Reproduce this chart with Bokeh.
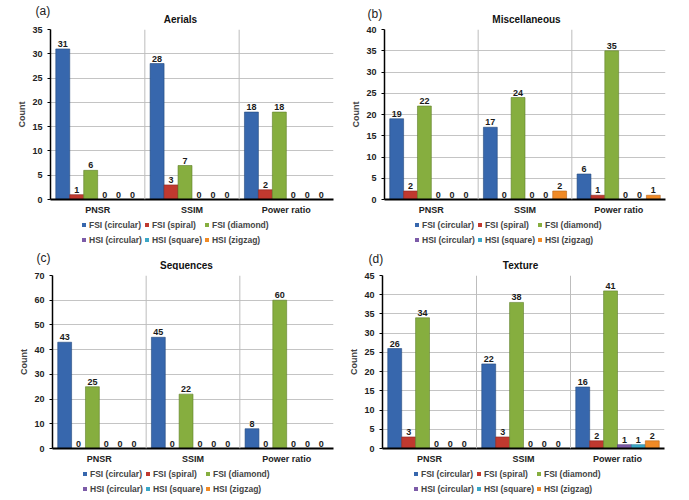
from bokeh.plotting import figure
from bokeh.models import (FactorRange, ColumnDataSource, LabelSet, Span, Legend,
                          LegendItem, Label, SingleIntervalTicker)
from bokeh.transform import dodge
from bokeh.layouts import column, row
from bokeh.embed import file_html
from bokeh.resources import INLINE
from bokeh.core.properties import value

# ---------------- data ----------------
categories = ["PNSR", "SSIM", "Power ratio"]
series = ["FSI (circular)", "FSI (spiral)", "FSI (diamond)",
          "HSI (circular)", "HSI (square)", "HSI (zigzag)"]

# rows = series (in the order above), columns = categories
aerials = [[31, 28, 18], [1, 3, 2], [6, 7, 18], [0, 0, 0], [0, 0, 0], [0, 0, 0]]
miscellaneous = [[19, 17, 6], [2, 0, 1], [22, 24, 35], [0, 0, 0], [0, 0, 0], [0, 2, 1]]
sequences = [[43, 45, 8], [0, 0, 0], [25, 22, 60], [0, 0, 0], [0, 0, 0], [0, 0, 0]]
texture = [[26, 22, 16], [3, 3, 2], [34, 38, 41], [0, 0, 1], [0, 0, 1], [0, 0, 2]]

# ---------------- styles ----------------
colors = ["#3767AD", "#C0392F", "#86AE3F", "#7C5BA8", "#3BA7C7", "#F08A26"]
edges = ["#24497E", "#8C2621", "#5F7F2A", "#573F7C", "#287A93", "#B5641A"]
FONT = "Liberation Sans"
BAR_W = 0.148


def blank(w, h):
    f = figure(width=w, height=h, x_range=(0, 1), y_range=(0, 1),
               x_axis_type=None, y_axis_type=None, output_backend="svg",
               toolbar_location=None, min_border=0, frame_align=False)
    f.outline_line_color = None
    f.background_fill_color = "white"
    f.border_fill_color = "white"
    return f


def panel(letter, title, data, ymax, step, w, lay):
    (hh, letter_x, letter_y, title_x, title_y,
     bl, br, bt, fh, bb, lh, leg_x, leg_y) = lay

    # header with panel letter and title
    head = blank(w, hh)
    head.add_layout(Label(x=letter_x, y=letter_y, x_units="screen", y_units="screen",
                          text=letter, text_font=FONT, text_font_size="12px",
                          text_baseline="middle", text_align="left",
                          text_color="#222222"))
    head.add_layout(Label(x=title_x, y=title_y, x_units="screen", y_units="screen",
                          text=title, text_font=FONT, text_font_size="10px",
                          text_font_style="bold", text_baseline="middle",
                          text_align="center", text_color="#111111"))

    # main chart
    p = figure(x_range=FactorRange(*categories), y_range=(0, ymax),
               width=w, height=bt + fh + bb, output_backend="svg",
               toolbar_location=None, min_border_left=bl, min_border_right=br,
               min_border_top=bt, min_border_bottom=bb, frame_align=False)
    p.outline_line_color = None
    p.background_fill_color = "white"
    p.border_fill_color = "white"

    for i, name in enumerate(series):
        vals = data[i]
        src = ColumnDataSource(dict(cat=categories, val=vals,
                                    txt=[str(v) for v in vals]))
        off = (i - 2.5) * BAR_W
        p.vbar(x=dodge("cat", off, range=p.x_range), top="val", width=BAR_W,
               source=src, fill_color=colors[i], line_color=edges[i],
               line_width=0.6)
        p.add_layout(LabelSet(x=dodge("cat", off, range=p.x_range), y="val",
                              text="txt", source=src, text_align="center",
                              text_baseline="bottom", y_offset=2,
                              text_font_size="9px", text_font_style="bold",
                              text_font=value(FONT), text_color="#1a1a1a"))

    for b in (1, 2):
        p.add_layout(Span(location=b, dimension="height", line_color="#BDBDBD",
                          line_width=1))

    p.xgrid.grid_line_color = None
    p.ygrid.grid_line_color = "#C4C4C4"
    p.ygrid.grid_line_width = 1.2

    p.yaxis.ticker = SingleIntervalTicker(interval=step)
    p.yaxis.axis_label = "Count"
    p.yaxis.axis_label_text_font = FONT
    p.yaxis.axis_label_text_font_size = "9px"
    p.yaxis.axis_label_text_font_style = "bold"
    p.yaxis.axis_label_standoff = 2
    p.yaxis.major_label_text_font = FONT
    p.yaxis.major_label_text_font_size = "9px"
    p.yaxis.major_label_text_font_style = "bold"
    p.yaxis.major_label_text_color = "#222222"
    p.yaxis.major_label_standoff = 4
    p.yaxis.axis_line_width = 1.5
    p.yaxis.axis_line_color = "black"
    p.yaxis.major_tick_out = 3
    p.yaxis.major_tick_in = 0
    p.yaxis.minor_tick_line_color = None

    p.xaxis.axis_line_width = 2
    p.xaxis.axis_line_color = "black"
    p.xaxis.major_tick_out = 0
    p.xaxis.major_tick_in = 0
    p.xaxis.major_tick_line_color = None
    p.xaxis.major_label_text_font = FONT
    p.xaxis.major_label_text_font_size = "9px"
    p.xaxis.major_label_text_font_style = "bold"
    p.xaxis.major_label_text_color = "#222222"
    p.xaxis.major_label_standoff = 5

    # legend strip: swatches are zero-height bars (invisible), only their colour is used
    lg = blank(w, lh)
    rs = []
    for c in colors:
        rs.append(lg.vbar(x=[0.5], top=[0], bottom=[0], width=0.01,
                          fill_color=c, line_color=None))
    items = [LegendItem(label=s, renderers=[r]) for s, r in zip(series, rs)]
    leg = Legend(items=items, ncols=3, orientation="horizontal",
                 location=(leg_x, leg_y),
                 glyph_width=5, glyph_height=5, label_standoff=3,
                 label_text_font=FONT, label_text_font_size="8.5px",
                 label_text_font_style="bold", label_height=13,
                 spacing=2, padding=0, margin=0, border_line_color=None,
                 background_fill_alpha=0)
    lg.add_layout(leg)

    return column(head, p, lg, spacing=0)


# layout parameters (pixels):
# header h, letter x/y, title x/y, border left/right/top, frame h, border bottom,
# legend strip h, legend x/y
lay_a = (24, 35, 14, 180, 5, 50, 12, 5, 171, 17, 32, 81, 3)
lay_b = (24, 22, 11, 181, 5, 39, 23, 5, 171, 17, 32, 69, 3)
lay_c = (21, 36, 13, 186, 5, 52, 12, 5, 174, 17, 33, 82, 4)
lay_d = (21, 23, 12, 175, 5, 37, 24, 5, 174, 17, 33, 68, 4)

pa = panel("(a)", "Aerials", aerials, 35, 5, 345, lay_a)
pb = panel("(b)", "Miscellaneous", miscellaneous, 40, 5, 343, lay_b)
pc = panel("(c)", "Sequences", sequences, 70, 10, 345, lay_c)
pd = panel("(d)", "Texture", texture, 45, 5, 343, lay_d)

page = column(row(pa, pb, spacing=0), row(pc, pd, spacing=0), spacing=0)
open("out.html", "w").write(file_html(page, INLINE))
